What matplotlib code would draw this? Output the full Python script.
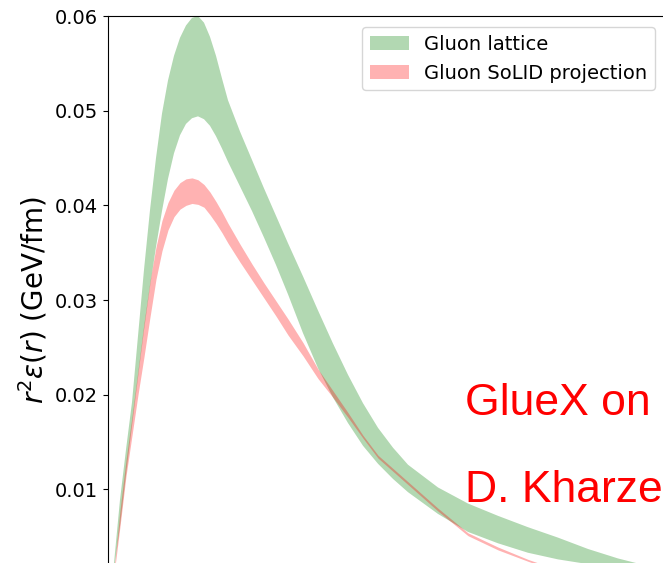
import matplotlib
matplotlib.use("Agg")
import numpy as np
from matplotlib import pyplot as plt

# radius grid (fm) and band edges of r^2 eps(r) (GeV/fm)
r = [0.00, 0.02, 0.04, 0.06, 0.08, 0.10, 0.12, 0.14, 0.16, 0.18, 0.20, 0.22,
     0.24, 0.26, 0.28, 0.30, 0.32, 0.34, 0.36, 0.38, 0.40, 0.44, 0.48, 0.52,
     0.56, 0.60, 0.65, 0.70, 0.75, 0.80, 0.85, 0.90, 0.95, 1.00, 1.10, 1.20,
     1.30, 1.40, 1.50, 1.60, 1.70, 1.80, 1.90, 2.00]

lattice_hi = [0.0, 0.0022, 0.0089, 0.0142, 0.0192, 0.0262, 0.0332, 0.0395,
              0.0450, 0.0497, 0.0532, 0.0558, 0.0577, 0.0590, 0.0598, 0.0600,
              0.0593, 0.0578, 0.0558, 0.0534, 0.0511, 0.0478, 0.0448, 0.0418,
              0.0389, 0.0360, 0.0325, 0.0289, 0.0254, 0.0221, 0.0191, 0.0165,
              0.0144, 0.0126, 0.0102, 0.0085, 0.0072, 0.0060, 0.0049, 0.0037,
              0.0027, 0.0019, 0.0012, 0.0007]
lattice_lo = [0.0, 0.0015, 0.0061, 0.0115, 0.0167, 0.0218, 0.0268, 0.0314,
              0.0356, 0.0394, 0.0428, 0.0455, 0.0474, 0.0486, 0.0492, 0.0494,
              0.0491, 0.0484, 0.0473, 0.0460, 0.0446, 0.0420, 0.0394, 0.0366,
              0.0337, 0.0306, 0.0265, 0.0228, 0.0197, 0.0170, 0.0146, 0.0127,
              0.0111, 0.0097, 0.0074, 0.0055, 0.0043, 0.0033, 0.0026, 0.0021,
              0.0017, 0.0013, 0.0008, 0.0004]

solid_hi = [0.0, 0.0015, 0.0078, 0.0131, 0.0177, 0.0226, 0.0276, 0.0320,
            0.0356, 0.0384, 0.0403, 0.0416, 0.0424, 0.0428, 0.0429, 0.0427,
            0.0422, 0.0414, 0.0404, 0.0393, 0.0381, 0.0359, 0.0338, 0.0318,
            0.0299, 0.0280, 0.0255, 0.0227, 0.0204, 0.0181, 0.0157, 0.0136,
            0.0122, 0.0108, 0.0080, 0.0054, 0.0039, 0.0026, 0.0015, 0.0008,
            0.0004, 0.0002, 0.0001, 0.0]
solid_lo = [0.0, 0.0010, 0.0061, 0.0114, 0.0157, 0.0200, 0.0240, 0.0282,
            0.0322, 0.0352, 0.0374, 0.0388, 0.0396, 0.0400, 0.0402, 0.0401,
            0.0398, 0.0390, 0.0381, 0.0371, 0.0360, 0.0340, 0.0321, 0.0302,
            0.0283, 0.0263, 0.0241, 0.0217, 0.0197, 0.0176, 0.0154, 0.0133,
            0.0119, 0.0105, 0.0077, 0.0051, 0.0036, 0.0024, 0.0013, 0.0007,
            0.0003, 0.0001, 0.0, 0.0]

fig = plt.figure(figsize=(6.63, 5.63), dpi=100)
# the original is a crop of a slide, so the axes run past the bottom and right edge
ax = fig.add_axes([108 / 663, -21 / 563, 600 / 663, 568 / 563])

ax.fill_between(r, lattice_lo, lattice_hi, color='green', alpha=0.3, linewidth=0,
                label='Gluon lattice')
ax.fill_between(r, solid_lo, solid_hi, color='red', alpha=0.3, linewidth=0,
                label='Gluon SoLID projection')

ax.set_xlim(0, 2.0)
ax.set_ylim(0, 0.06)
ax.set_yticks([0.01, 0.02, 0.03, 0.04, 0.05, 0.06])
ax.set_yticklabels(['0.01', '0.02', '0.03', '0.04', '0.05', '0.06'])
ax.tick_params(axis='y', labelsize=14)
ax.tick_params(axis='x', bottom=False, labelbottom=False)
ax.set_ylabel(r'$r^2\varepsilon(r)$ (GeV/fm)', fontsize=20)

ax.legend(loc='upper right', bbox_to_anchor=(655 / 663, (563 - 27) / 563),
          bbox_transform=fig.transFigure, borderaxespad=0, fontsize=14)

fig.text(465 / 663, (563 - 415) / 563, 'GlueX on', color='red', fontsize=32,
         family='Liberation Sans', va='baseline')
fig.text(465 / 663, (563 - 502) / 563, 'D. Kharze', color='red', fontsize=32,
         family='Liberation Sans', va='baseline')

fig.savefig('out.png', dpi=100)
